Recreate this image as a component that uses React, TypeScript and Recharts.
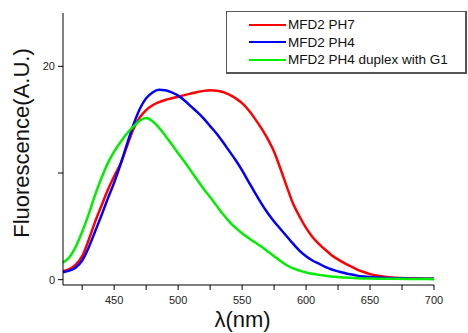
import React from 'react'
import { LineChart, Line, XAxis, YAxis, Legend, Label } from 'recharts'

// wavelength grid (nm) and the three emission spectra
const wavelengths = [
  410, 415, 420, 425, 430, 435, 440, 445, 450, 455, 460, 465, 470, 475, 480, 485, 490, 495, 500, 505,
  510, 515, 520, 525, 530, 535, 540, 545, 550, 555, 560, 565, 570, 575, 580, 585, 590, 595, 600, 605,
  610, 615, 620, 625, 630, 635, 640, 645, 650, 660, 670, 680, 690, 700,
]
const ph7 = [
  0.8, 1.0, 1.4, 2.2, 3.7, 5.4, 6.9, 8.4, 9.7, 10.9, 12.5, 14.1, 15.2, 15.9, 16.35, 16.65, 16.85, 17.0, 17.15, 17.3,
  17.45, 17.6, 17.7, 17.75, 17.72, 17.6, 17.35, 17.0, 16.55, 15.9, 15.1, 14.2, 13.2, 12.0, 10.4, 8.7, 7.1, 5.9, 4.85, 4.0,
  3.35, 2.8, 2.3, 1.9, 1.55, 1.25, 0.95, 0.72, 0.52, 0.3, 0.18, 0.13, 0.1, 0.08,
]
const ph4 = [
  0.7, 0.85, 1.15, 1.8, 3.0, 4.5, 6.0, 7.6, 9.1, 10.8, 12.7, 14.5, 16.0, 17.0, 17.55, 17.8, 17.75, 17.55, 17.25, 16.8,
  16.25, 15.7, 15.1, 14.4, 13.7, 12.9, 12.05, 11.2, 10.25, 9.2, 8.15, 7.15, 6.25, 5.45, 4.75, 4.05, 3.35, 2.7, 2.2, 1.8,
  1.5, 1.2, 0.95, 0.78, 0.62, 0.5, 0.38, 0.3, 0.24, 0.17, 0.13, 0.1, 0.09, 0.08,
]
const ph4Duplex = [
  1.6, 2.1, 3.1, 4.5, 6.1, 7.9, 9.5, 10.9, 12.0, 12.9, 13.7, 14.35, 14.9, 15.15, 14.85, 14.25, 13.5, 12.7, 11.85, 11.05,
  10.2, 9.35, 8.5, 7.75, 6.95, 6.15, 5.45, 4.85, 4.35, 3.9, 3.5, 3.1, 2.65, 2.2, 1.75, 1.35, 1.05, 0.85, 0.68, 0.55,
  0.45, 0.37, 0.3, 0.25, 0.2, 0.17, 0.14, 0.12, 0.11, 0.09, 0.08, 0.07, 0.06, 0.05,
]

const seriesNames = ['MFD2 PH7', 'MFD2 PH4', 'MFD2 PH4 duplex with G1']
const seriesColors = ['#ff0000', '#0000ff', '#00ee00']
const xTicks = [425, 450, 475, 500, 525, 550, 575, 600, 625, 650, 675, 700]
const yTicks = [0, 10, 20]

const data = wavelengths.map((nm, i) => ({
  nm,
  ph7: ph7[i],
  ph4: ph4[i],
  duplex: ph4Duplex[i],
}))

const FONT = '"Liberation Sans", Arial, sans-serif'

function LegendBox() {
  return (
    <div
      style={{
        width: 241,
        height: 63,
        boxSizing: 'border-box',
        border: '1px solid #555',
        borderRightWidth: 2,
        borderBottomWidth: 2,
        background: '#fff',
        padding: '4px 0 0 22px',
        fontFamily: FONT,
        fontSize: 13.5,
        color: '#111',
      }}
    >
      {seriesNames.map((name, i) => (
        <div key={name} style={{ display: 'flex', alignItems: 'center', height: 17.5 }}>
          <span style={{ display: 'inline-block', width: 37, height: 2, background: seriesColors[i], marginRight: 2 }} />
          <span>{name}</span>
        </div>
      ))}
    </div>
  )
}

export default function App() {
  return (
    <div style={{ position: 'absolute', left: 0, top: 0, width: 468, height: 333, background: '#fff' }}>
      <LineChart width={468} height={333} data={data} margin={{ top: 13, right: 34, bottom: 0, left: 0 }}>
        <XAxis
          dataKey="nm"
          type="number"
          domain={[410, 700]}
          ticks={xTicks}
          interval={0}
          tickFormatter={(v: number) => (v % 50 === 0 ? String(v) : '')}
          height={48}
          tickSize={5}
          tickMargin={6}
          stroke="#000"
          tick={{ fontSize: 11, fill: '#222', fontFamily: FONT }}
        >
          <Label
            content={({ viewBox }: any) => (
              <text
                x={viewBox.x + viewBox.width / 2 - 6}
                y={viewBox.y + 42}
                textAnchor="middle"
                fontSize={22}
                fontFamily={FONT}
                fill="#111"
              >
                λ(nm)
              </text>
            )}
          />
        </XAxis>
        <YAxis
          type="number"
          domain={[-0.5, 25]}
          ticks={yTicks}
          interval={0}
          tickFormatter={(v: number) => (v === 10 ? '' : String(v))}
          width={63}
          tickSize={5}
          tickMargin={3}
          stroke="#000"
          tick={{ fontSize: 11, fill: '#222', fontFamily: FONT }}
        >
          <Label
            content={({ viewBox }: any) => {
              const x = viewBox.x + 28.5
              const y = viewBox.y + viewBox.height / 2 - 6
              return (
                <text
                  x={x}
                  y={y}
                  transform={`rotate(-90, ${x}, ${y})`}
                  textAnchor="middle"
                  fontSize={22}
                  fontFamily={FONT}
                  fill="#111"
                >
                  Fluorescence(A.U.)
                </text>
              )
            }}
          />
        </YAxis>
        <Legend
          layout="vertical"
          align="center"
          verticalAlign="middle"
          content={LegendBox}
          wrapperStyle={{ left: 226, top: 11, width: 241 }}
        />
        <Line name={seriesNames[0]} dataKey="ph7" type="monotone" stroke={seriesColors[0]} strokeWidth={2.5} dot={false} isAnimationActive={false} />
        <Line name={seriesNames[1]} dataKey="ph4" type="monotone" stroke={seriesColors[1]} strokeWidth={2.5} dot={false} isAnimationActive={false} />
        <Line name={seriesNames[2]} dataKey="duplex" type="monotone" stroke={seriesColors[2]} strokeWidth={2.5} dot={false} isAnimationActive={false} />
      </LineChart>
    </div>
  )
}
